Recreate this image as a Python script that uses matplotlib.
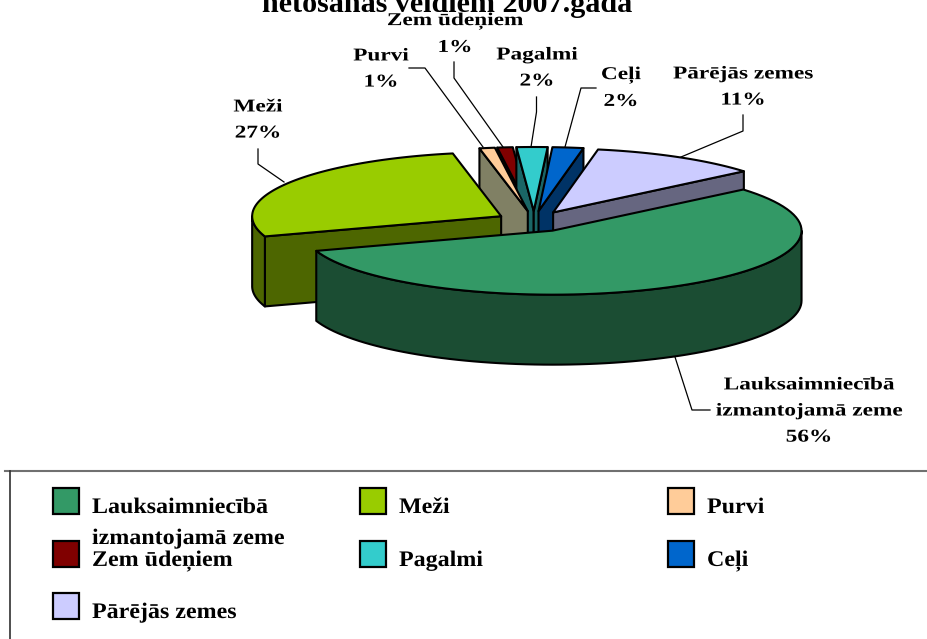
import numpy as np
import matplotlib
matplotlib.use("Agg")
import matplotlib.pyplot as plt
from matplotlib.patches import Polygon, Rectangle
from matplotlib.patheffects import AbstractPathEffect
from matplotlib.transforms import Affine2D

# data
categories = ["Lauksaimniecībā\nizmantojamā zeme", "Meži", "Purvi", "Zem ūdeņiem",
              "Pagalmi", "Ceļi", "Pārējās zemes"]
values = [56, 27, 1, 1, 2, 2, 11]
colors = ["#339966", "#99CC00", "#FFCC99", "#800000", "#33CCCC", "#0066CC", "#CCCCFF"]
dark_colors = ["#1B4D33", "#4D6600", "#808064", "#400000", "#1A6666", "#003366", "#666680"]
title = "netošanas veidiem 2007.gada"

# pie layout, in figure pixels
CX, CY = 534, 221.5
RX, RY = 249, 64
DEPTH = 70
START = 40
EXPLODE_X, EXPLODE_Y = 38, 10.5
draw_order = [3, 4, 2, 5, 6, 1, 0]  # back to front

W, H = 927, 639
plt.rcParams["font.family"] = ["Liberation Serif", "DejaVu Serif"]
plt.rcParams["font.weight"] = "bold"

fig = plt.figure(figsize=(W / 100, H / 100), dpi=100)
ax = fig.add_axes([0, 0, 1, 1])
ax.set_xlim(0, W)
ax.set_ylim(H, 0)
ax.axis("off")


class Stretch(AbstractPathEffect):
    # the original text is spaced out, matplotlib has no option for it
    def __init__(self, sx, x, y):
        super().__init__()
        self.tr = Affine2D().translate(-x, -(H - y)).scale(sx, 1).translate(x, H - y)

    def draw_path(self, renderer, gc, tpath, affine, rgbFace=None):
        renderer.draw_path(gc, tpath, affine + self.tr, rgbFace)


def arc(cx, cy, a1, a2, n=80):
    t = np.radians(np.linspace(a1, a2, n))
    return np.column_stack([cx + RX * np.cos(t), cy - RY * np.sin(t)])


def poly(pts, color, z):
    ax.add_patch(Polygon(pts, closed=True, facecolor=color, edgecolor="black",
                         linewidth=1.5, joinstyle="round", zorder=z))


edges = START - np.cumsum([0] + values) * 3.6
for z, i in enumerate(draw_order):
    hi, lo = edges[i], edges[i + 1]
    mid = np.radians((hi + lo) / 2)
    cx = CX + EXPLODE_X * np.cos(mid)
    cy = CY - EXPLODE_Y * np.sin(mid)
    base = z * 10 + 2
    down = np.array([0, DEPTH])
    # flat cut faces, only when they look towards the viewer
    for ang, normal in ((hi, hi + 90), (lo, lo - 90)):
        if np.sin(np.radians(normal)) < 0:
            p = arc(cx, cy, ang, ang, 1)[0]
            apex = np.array([cx, cy])
            poly([apex, p, p + down, apex + down], dark_colors[i], base)
    # outer rim, front half only
    a1, a2 = max(lo, -180), min(hi, 0)
    if a1 < a2:
        top = arc(cx, cy, a1, a2)
        poly(np.vstack([top, top[::-1] + down]), dark_colors[i], base + 1)
    # top surface
    poly(np.vstack([[cx, cy], arc(cx, cy, hi, lo)]), colors[i], base + 2)


def label(x, y, s, fs=13, sx=1.29, ha="center", **kw):
    return ax.text(x, y, s, fontsize=fs, ha=ha, va="center", zorder=200,
                   path_effects=[Stretch(sx, x, y)], **kw)


ax.text(447, 11.5, title, fontsize=21.7, ha="center", va="baseline", zorder=200)

# data labels with their leader lines
data_labels = [
    (809, 411, f"{categories[0]}\n{values[0]}%", [(675, 357), (692, 410), (710, 410)]),
    (258, 120, f"{categories[1]}\n{values[1]}%", [(258, 149), (258, 164), (284, 182)]),
    (381, 69, f"{categories[2]}\n{values[2]}%", [(409, 68), (425, 68), (483, 147)]),
    (455, 34, f"{categories[3]}\n{values[3]}%", [(454, 62), (454, 78), (503, 147)]),
    (537, 68, f"{categories[4]}\n{values[4]}%", [(536.5, 97), (536.5, 112), (531, 147)]),
    (621, 88, f"{categories[5]}\n{values[5]}%", [(596, 88), (581, 88), (565, 147)]),
    (743, 87, f"{categories[6]}\n{values[6]}%", [(743, 115), (743, 131), (681, 157)]),
]
for x, y, s, line in data_labels:
    label(x, y, s, linespacing=1.7)
    xs, ys = zip(*line)
    ax.plot(xs, ys, color="black", lw=0.9, zorder=150)

# legend box, only the top and left edges are inside the picture
ax.plot([5, W], [471, 471], color="#707070", lw=1.5, zorder=1)
ax.plot([10.5, 10.5], [471, H], color="#303030", lw=1.2, zorder=1)

col_x = [53, 360, 668]
row_y = [488, 541, 593]
for i, name in enumerate(categories):
    r, c = i // 3, i % 3
    ax.add_patch(Rectangle((col_x[c], row_y[r]), 26, 26, facecolor=colors[i],
                           edgecolor="black", linewidth=1.6, zorder=5))
    tx = col_x[c] + 39
    ty = row_y[r] + 20
    for j, part in enumerate(name.split("\n")):
        label(tx, ty + j * 31, part, fs=16, sx=1.08, ha="left")

fig.savefig("out.png", dpi=100)
